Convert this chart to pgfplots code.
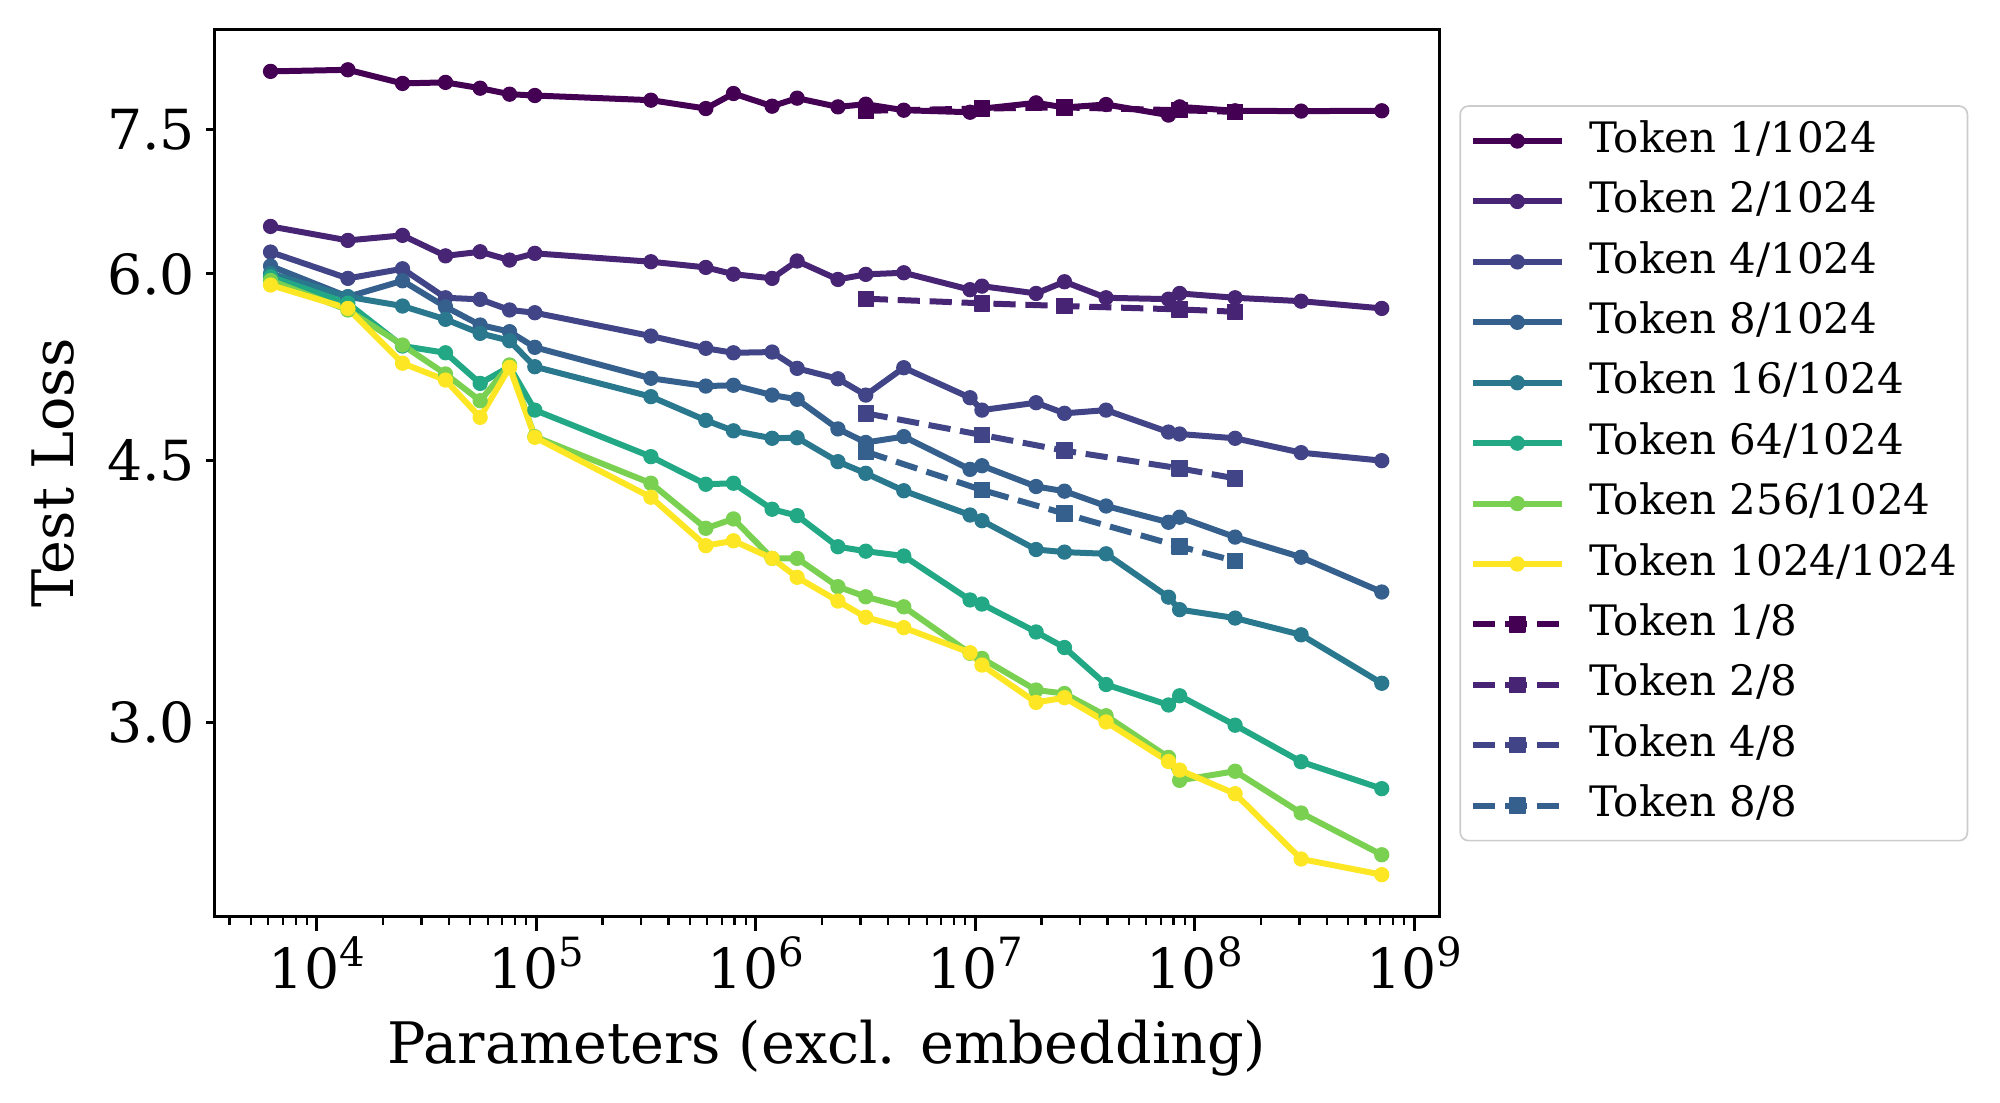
\documentclass[border=0pt]{standalone}
\usepackage{pgfplots}
\usepackage{pgfplotstable}
\pgfplotsset{compat=1.18}
\usepackage{fontspec}
\setmainfont{DejaVu Serif}
\definecolor{v1}{HTML}{440154}
\definecolor{v2}{HTML}{482475}
\definecolor{v3}{HTML}{414487}
\definecolor{v4}{HTML}{355F8D}
\definecolor{v5}{HTML}{2A788E}
\definecolor{v6}{HTML}{22A884}
\definecolor{v7}{HTML}{7AD151}
\definecolor{v8}{HTML}{FDE725}
\newcommand{\tickfont}{\fontsize{19.9bp}{20bp}\selectfont}
\newcommand{\tp}[1]{10\raisebox{8.0bp}{\fontsize{14.5bp}{14.5bp}\selectfont #1}}

\pgfplotstableread{
x s1 s2 s3 s4 s5 s6 s7 s8
6150 8.203 6.457 6.206 6.074 6.004 5.974 5.940 5.898
13840 8.223 6.319 5.959 5.792 5.792 5.734 5.675 5.689
24550 8.052 6.368 6.048 5.937 5.710 5.368 5.376 5.227
38550 8.065 6.170 5.783 5.703 5.594 5.312 5.141 5.093
55440 7.994 6.209 5.769 5.545 5.474 5.067 4.933 4.808
75500 7.920 6.130 5.675 5.488 5.412 5.199 5.213 5.194
98400 7.904 6.194 5.651 5.357 5.199 4.862 4.667 4.662
332600 7.847 6.114 5.451 5.107 4.964 4.525 4.343 4.250
591500 7.747 6.061 5.349 5.046 4.786 4.336 4.051 3.944
790700 7.929 5.998 5.312 5.052 4.709 4.343 4.110 3.974
1186000 7.775 5.959 5.318 4.976 4.655 4.172 3.868 3.868
1542000 7.871 6.121 5.186 4.944 4.659 4.131 3.868 3.756
2366000 7.766 5.949 5.103 4.723 4.490 3.938 3.702 3.621
3168000 7.799 5.996 4.976 4.625 4.410 3.911 3.645 3.531
4720000 7.727 6.011 5.191 4.667 4.293 3.882 3.589 3.475
9460000 7.703 5.856 4.956 4.437 4.135 3.627 3.340 3.343
10720000 7.745 5.888 4.862 4.462 4.099 3.604 3.314 3.280
18920000 7.815 5.822 4.918 4.321 3.921 3.452 3.156 3.096
25480000 7.759 5.928 4.838 4.290 3.905 3.370 3.139 3.119
39420000 7.795 5.783 4.862 4.193 3.895 3.183 3.033 3.004
75880000 7.668 5.771 4.700 4.089 3.643 3.084 2.844 2.826
85290000 7.766 5.822 4.686 4.121 3.573 3.128 2.745 2.789
152600000 7.719 5.783 4.655 3.997 3.527 2.989 2.784 2.689
305000000 7.716 5.753 4.553 3.875 3.437 2.825 2.610 2.431
711000000 7.719 5.689 4.497 3.672 3.189 2.710 2.447 2.373
}\solidtab

\pgfplotstableread{
x d1 d2 d3 d4
3168000 7.719 5.775 4.838 4.560
10720000 7.747 5.734 4.679 4.298
25480000 7.759 5.710 4.567 4.144
85290000 7.727 5.680 4.444 3.940
152600000 7.707 5.660 4.376 3.852
}\dashtab

\pgfplotsset{
  sol/.style={color=#1, line width=2.16bp, line join=round, mark=*, mark size=2.55bp,
    mark options={solid, line width=0.4bp, fill=#1, draw=#1}},
  das/.style={color=#1, line width=2.16bp, line join=round, dash pattern=on 8bp off 3.5bp,
    mark=square*, mark size=2.75bp, mark options={solid, line width=0.4bp, fill=#1, draw=#1}},
}

\begin{document}
\begin{tikzpicture}
\begin{axis}[
  at={(0,0)}, anchor=south west, scale only axis,
  width=441.2bp, height=319.5bp,
  xmode=log, ymode=log,
  xmin=3404, xmax=1.306e9, ymin=2.223, ymax=8.752,
  axis line style={line width=1.08bp, black},
  tick pos=left, tick align=outside,
  major tick length=4.9bp, minor tick length=2.8bp,
  tick style={black, line width=1.08bp},
  minor tick style={black, line width=0.81bp},
  xtick={1e4,1e5,1e6,1e7,1e8,1e9},
  xticklabels={\tp{4},\tp{5},\tp{6},\tp{7},\tp{8},\tp{9}},
  minor xtick={4e3,5e3,6e3,7e3,8e3,9e3,
    2e4,3e4,4e4,5e4,6e4,7e4,8e4,9e4,
    2e5,3e5,4e5,5e5,6e5,7e5,8e5,9e5,
    2e6,3e6,4e6,5e6,6e6,7e6,8e6,9e6,
    2e7,3e7,4e7,5e7,6e7,7e7,8e7,9e7,
    2e8,3e8,4e8,5e8,6e8,7e8,8e8,9e8},
  ytick=\empty,
  extra y ticks={3,4.5,6,7.5},
  extra y tick labels={3.0,4.5,6.0,7.5},
  extra y tick style={major tick length=2.8bp},
  xticklabel style={font=\tickfont, anchor=base, inner sep=0pt, yshift=-21.0bp},
  yticklabel style={font=\tickfont, anchor=east, inner sep=0pt, xshift=-3.9bp},
  xlabel={Parameters (excl. embedding)},
  ylabel={Test Loss},
  label style={font=\fontsize{20.6bp}{21bp}\selectfont},
  xlabel style={at={(axis description cs:0.5,-0.1656)}, anchor=base, inner sep=0pt},
  ylabel style={at={(axis description cs:-0.1145,0.5)}, anchor=base, inner sep=0pt, rotate=0},
  legend image code/.code={\draw[mark repeat=2,mark phase=2] plot coordinates {(0bp,0bp) (15.9bp,0bp) (31.8bp,0bp)};},
  legend cell align=left,
  legend style={
    at={(axis description cs:1.0160,0.9146)}, anchor=north west,
    draw=black!20, line width=0.6bp, rounded corners=3bp, fill=white,
    font=\fontsize{15.1bp}{15.1bp}\selectfont,
    inner xsep=3.6bp, inner ysep=5.6bp,
    row sep=7.75bp,
    nodes={inner sep=0pt, text height=11bp, text depth=3bp},
    /tikz/every odd column/.append style={column sep=8.9bp},
  },
]
\addplot[sol=v1] table[x=x, y=s1] {\solidtab};
\addlegendentry{Token 1/1024}
\addplot[sol=v2] table[x=x, y=s2] {\solidtab};
\addlegendentry{Token 2/1024}
\addplot[sol=v3] table[x=x, y=s3] {\solidtab};
\addlegendentry{Token 4/1024}
\addplot[sol=v4] table[x=x, y=s4] {\solidtab};
\addlegendentry{Token 8/1024}
\addplot[sol=v5] table[x=x, y=s5] {\solidtab};
\addlegendentry{Token 16/1024}
\addplot[sol=v6] table[x=x, y=s6] {\solidtab};
\addlegendentry{Token 64/1024}
\addplot[sol=v7] table[x=x, y=s7] {\solidtab};
\addlegendentry{Token 256/1024}
\addplot[sol=v8] table[x=x, y=s8] {\solidtab};
\addlegendentry{Token 1024/1024}
\addplot[das=v1] table[x=x, y=d1] {\dashtab};
\addlegendentry{Token 1/8}
\addplot[das=v2] table[x=x, y=d2] {\dashtab};
\addlegendentry{Token 2/8}
\addplot[das=v3] table[x=x, y=d3] {\dashtab};
\addlegendentry{Token 4/8}
\addplot[das=v4] table[x=x, y=d4] {\dashtab};
\addlegendentry{Token 8/8}
\end{axis}
\pgfresetboundingbox
\path[use as bounding box] (-77.1bp,-66.9bp) rectangle (642.9bp,330.1bp);
\end{tikzpicture}
\end{document}
